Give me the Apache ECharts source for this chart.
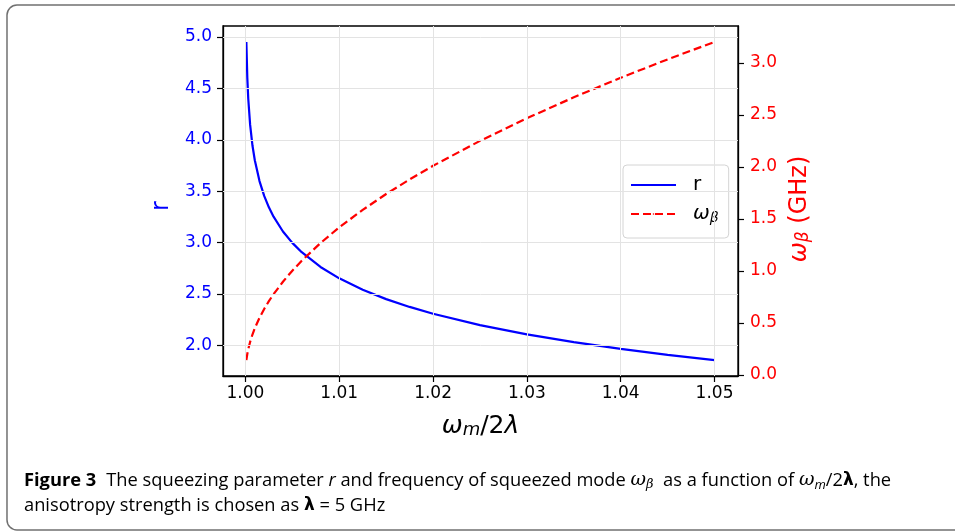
<!DOCTYPE html>
<html>
<head>
<meta charset="utf-8">
<script src="https://cdn.jsdelivr.net/npm/echarts@6/dist/echarts.min.js"></script>
<style>
html,body{margin:0;padding:0;background:#fff;}
#chart{width:955px;height:531px;}
</style>
</head>
<body>
<div id="chart"></div>
<script>
// values
var xVals = [1.0001,1.0002,1.0003,1.0005,1.00075,1.001,1.0015,1.002,1.0025,1.003,1.004,1.005,1.006,1.008,1.01,1.0125,1.015,1.0175,1.02,1.025,1.03,1.035,1.04,1.045,1.05];
var rVals = [4.952,4.605,4.402,4.147,3.944,3.801,3.598,3.454,3.343,3.252,3.108,2.997,2.906,2.763,2.652,2.541,2.450,2.374,2.308,2.197,2.107,2.031,1.966,1.908,1.857];
var wbVals = [0.141,0.200,0.245,0.316,0.387,0.447,0.548,0.633,0.708,0.775,0.895,1.001,1.097,1.267,1.418,1.586,1.739,1.879,2.010,2.250,2.468,2.669,2.857,3.034,3.202];
var xTicks = [1.00,1.01,1.02,1.03,1.04,1.05];
var rTicks = [2.0,2.5,3.0,3.5,4.0,4.5,5.0];
var wbTicks = [0.0,0.5,1.0,1.5,2.0,2.5,3.0];

var FONT = 'DejaVu Sans';
var CAP = 'Open Sans';
var BLUE = '#0000ff', RED = '#ff0000';

function pairs(xs, ys){
	var out = [];
	for(var i = 0; i < xs.length; i++){
		out.push([xs[i], ys[i]]);
	}
	return out;
}

// mathtext-like rich styles
function mathRich(size, color){
	return {
		t: {fontFamily: FONT, fontSize: size, color: color},
		i: {fontFamily: FONT, fontSize: size, fontStyle: 'italic', color: color},
		n: {fontFamily: FONT, fontSize: size, color: color},
		s: {fontFamily: FONT, fontSize: Math.round(size*0.7), fontStyle: 'italic', color: color, verticalAlign: 'bottom', lineHeight: Math.round(size*0.55)}
	};
}

var chart = echarts.init(document.getElementById('chart'), null, {renderer: 'canvas'});

var legendRich = mathRich(20, '#000');
legendRich.t.lineHeight = 22;
legendRich.i.lineHeight = 22;

var option = {
	animation: false,
	backgroundColor: '#fff',
	grid: {
		left: 223, right: 217, top: 26, bottom: 155,
		show: true, borderColor: '#000', borderWidth: 1.3, backgroundColor: 'transparent'
	},
	legend: {
		left: 623, top: 165,
		orient: 'vertical',
		itemWidth: 45, itemHeight: 2, itemGap: 9,
		padding: [10, 10, 13, 7],
		backgroundColor: 'rgba(255,255,255,0.85)',
		borderColor: '#d4d4d4', borderWidth: 1, borderRadius: 4,
		data: ['r', 'wb'],
		formatter: function(name){
			return name === 'r' ? '{t|r}' : '{i|ω}{s|β}';
		},
		textStyle: {
			padding: [0, 0, 0, 12],
			rich: legendRich
		}
	},
	xAxis: [{
		type: 'value',
		min: 0.99761, max: 1.0525,
		name: '{i|ω}{s|m}{n|/2}{i|λ}',
		nameLocation: 'middle',
		nameGap: 38,
		nameTextStyle: {rich: mathRich(25, '#000')},
		axisLine: {show: true, onZero: false, lineStyle: {color: '#000', width: 1.3}},
		axisTick: {show: true, inside: false, length: 6, customValues: xTicks, lineStyle: {color: '#000', width: 1.2}},
		axisLabel: {
			customValues: xTicks, margin: 9,
			fontFamily: FONT, fontSize: 17, color: '#000',
			formatter: function(v){ return v.toFixed(2); }
		},
		splitLine: {show: false}
	}],
	yAxis: [{
		type: 'value',
		position: 'left',
		min: 1.702, max: 5.107,
		name: '{t|r}',
		nameLocation: 'middle',
		nameGap: 47,
		nameTextStyle: {padding: [0, 10, 0, 0], rich: mathRich(24, BLUE)},
		axisLine: {show: true, lineStyle: {color: '#000', width: 1.3}},
		axisTick: {show: true, inside: false, length: 6, customValues: rTicks, lineStyle: {color: '#000', width: 1.2}},
		axisLabel: {
			customValues: rTicks, margin: 11,
			fontFamily: FONT, fontSize: 17, color: BLUE,
			formatter: function(v){ return v.toFixed(1); }
		},
		splitLine: {show: false}
	}, {
		type: 'value',
		position: 'right',
		min: -0.012, max: 3.355,
		name: '{i|ω}{s|β}{n| (GHz)}',
		nameLocation: 'middle',
		nameGap: 50,
		nameTextStyle: {padding: [0, 16, 0, 0], rich: mathRich(24, RED)},
		axisLine: {show: true, lineStyle: {color: '#000', width: 1.3}},
		axisTick: {show: true, inside: false, length: 6, customValues: wbTicks, lineStyle: {color: '#000', width: 1.2}},
		axisLabel: {
			customValues: wbTicks, margin: 12,
			fontFamily: FONT, fontSize: 17, color: RED,
			formatter: function(v){ return v.toFixed(1); }
		},
		splitLine: {show: false}
	}],
	series: [{
		name: 'grid',
		type: 'line',
		data: [],
		z: 1,
		silent: true,
		markLine: {
			symbol: 'none', silent: true, animation: false,
			label: {show: false},
			lineStyle: {color: '#e3e3e3', width: 1, type: 'solid'},
			data: xTicks.map(function(v){ return {xAxis: v}; })
				.concat(rTicks.map(function(v){ return {yAxis: v}; }))
		}
	}, {
		name: 'r',
		type: 'line',
		yAxisIndex: 0,
		data: pairs(xVals, rVals),
		symbol: 'none',
		z: 3,
		lineStyle: {color: BLUE, width: 2.2},
		itemStyle: {color: BLUE}
	}, {
		name: 'wb',
		type: 'line',
		yAxisIndex: 1,
		data: pairs(xVals, wbVals),
		symbol: 'none',
		z: 3,
		lineStyle: {color: RED, width: 2.2, type: [8, 4]},
		itemStyle: {color: RED}
	}],
	graphic: [{
		type: 'rect',
		shape: {x: 7, y: 5, width: 990, height: 525, r: 10},
		style: {fill: 'none', stroke: '#707070', lineWidth: 1.5},
		silent: true
	}, {
		type: 'text',
		left: 24, top: 471,
		style: {
			text: '{b|Figure 3}   {c|The squeezing parameter }{ci|r}{c| and frequency of squeezed mode }{m|ω}{sb|β}{c|  as a function of }{m|ω}{sm|m}{c|/2}{bl|λ}{c|, the}',
			rich: {
				b: {fontFamily: CAP, fontSize: 18.3, fontWeight: 'bold', color: '#222', lineHeight: 22},
				c: {fontFamily: CAP, fontSize: 18.3, color: '#333', lineHeight: 22},
				ci: {fontFamily: CAP, fontSize: 18.3, fontStyle: 'italic', color: '#333', lineHeight: 22},
				m: {fontFamily: 'DejaVu Serif', fontSize: 19, fontStyle: 'italic', color: '#333', lineHeight: 22},
				sb: {fontFamily: 'DejaVu Serif', fontSize: 13, fontStyle: 'italic', color: '#333', verticalAlign: 'bottom', lineHeight: 10},
				sm: {fontFamily: CAP, fontSize: 13, fontStyle: 'italic', color: '#333', verticalAlign: 'bottom', lineHeight: 10},
				bl: {fontFamily: 'DejaVu Sans', fontSize: 17, fontWeight: 'bold', color: '#333', lineHeight: 22}
			}
		}
	}, {
		type: 'text',
		left: 24, top: 497,
		style: {
			text: '{c|anisotropy strength is chosen as }{bl|λ}{c| = 5 GHz}',
			rich: {
				c: {fontFamily: CAP, fontSize: 18.3, color: '#333', lineHeight: 22},
				bl: {fontFamily: 'DejaVu Sans', fontSize: 17, fontWeight: 'bold', color: '#333', lineHeight: 22}
			}
		}
	}]
};

chart.setOption(option);
</script>
</body>
</html>
